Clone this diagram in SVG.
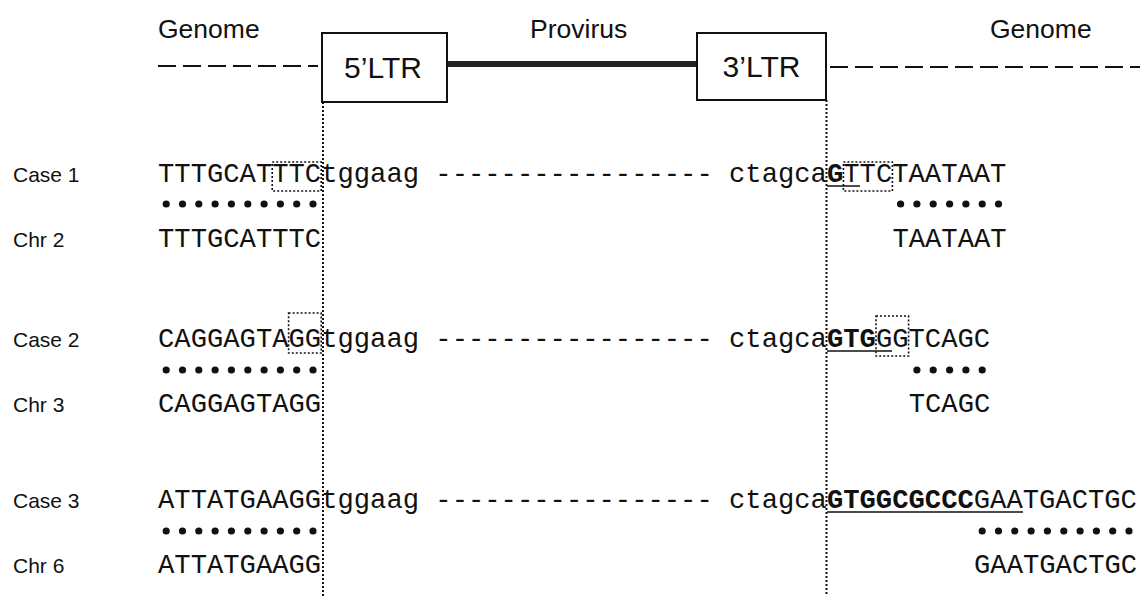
<svg xmlns="http://www.w3.org/2000/svg" width="1140" height="596" viewBox="0 0 1140 596">
<style>
.hdr{font-family:"Liberation Sans",Arial,sans-serif;font-size:26.5px;fill:#111}
.ltr{font-family:"Liberation Sans",Arial,sans-serif;font-size:30px;fill:#111;text-anchor:middle}
.lbl{font-family:"Liberation Sans",Arial,sans-serif;font-size:21px;fill:#111}
.seq{font-family:"Liberation Mono","Courier New",monospace;font-size:27.2px;fill:#111}
.b{font-weight:bold}
.box{fill:#fff;stroke:#111;stroke-width:2}
.dash{stroke:#111;stroke-width:2;stroke-dasharray:18 7;fill:none}
.vdot{stroke:#111;stroke-width:2;stroke-dasharray:2 2;fill:none}
.tsd{stroke:#111;stroke-width:1.6;stroke-dasharray:2 2;fill:none}
.ul{stroke:#111;stroke-width:1.6}
.dot{fill:#111}
</style>
<g id="header">
<text class="hdr" x="158" y="38">Genome</text>
<text class="hdr" x="530" y="38">Provirus</text>
<text class="hdr" x="990" y="38">Genome</text>
</g>
<g id="connectors">
<line class="dash" x1="158" y1="66" x2="318" y2="66"/>
<line x1="447" y1="64" x2="697" y2="64" stroke="#222" stroke-width="6"/>
<line class="dash" x1="830" y1="67" x2="1140" y2="67"/>
<line class="vdot" x1="323" y1="102" x2="323" y2="596"/>
<line class="vdot" x1="826.5" y1="100" x2="826.5" y2="596"/>
</g>
<g id="ltr5">
<rect class="box" x="322" y="33" width="125" height="69"/>
<text class="ltr" x="383" y="78">5’LTR</text>
</g>
<g id="ltr3">
<rect class="box" x="697" y="33" width="129" height="67"/>
<text class="ltr" x="761.5" y="77">3’LTR</text>
</g>
<g id="case1">
<text class="lbl" x="13" y="182">Case 1</text>
<text class="seq" x="158" y="182">TTTGCATTTCtggaag ----------------- ctagca<tspan class="b">G</tspan>TTCTAATAAT</text>
<rect class="tsd" x="272.2" y="162" width="49" height="29"/>
<rect class="tsd" x="843.4" y="162" width="49" height="29"/>
<line class="ul" x1="827" y1="186" x2="860" y2="186"/>
<g class="dot">
<circle cx="166.2" cy="204" r="3.6"/><circle cx="182.5" cy="204" r="3.6"/><circle cx="198.8" cy="204" r="3.6"/><circle cx="215.1" cy="204" r="3.6"/><circle cx="231.4" cy="204" r="3.6"/><circle cx="247.8" cy="204" r="3.6"/><circle cx="264.1" cy="204" r="3.6"/><circle cx="280.4" cy="204" r="3.6"/><circle cx="296.7" cy="204" r="3.6"/><circle cx="313.0" cy="204" r="3.6"/>
<circle cx="900.6" cy="204" r="3.6"/><circle cx="916.9" cy="204" r="3.6"/><circle cx="933.2" cy="204" r="3.6"/><circle cx="949.6" cy="204" r="3.6"/><circle cx="965.9" cy="204" r="3.6"/><circle cx="982.2" cy="204" r="3.6"/><circle cx="998.5" cy="204" r="3.6"/>
</g>
<text class="lbl" x="13" y="247">Chr 2</text>
<text class="seq" x="158" y="247">TTTGCATTTC</text>
<text class="seq" x="892.4" y="247">TAATAAT</text>
</g>
<g id="case2">
<text class="lbl" x="13" y="347">Case 2</text>
<text class="seq" x="158" y="347">CAGGAGTAGGtggaag ----------------- ctagca<tspan class="b">GTG</tspan>GGTCAGC</text>
<rect class="tsd" x="288.6" y="313" width="32.6" height="40"/>
<rect class="tsd" x="876" y="316" width="32.6" height="40"/>
<line class="ul" x1="827" y1="351" x2="892" y2="351"/>
<g class="dot">
<circle cx="166.2" cy="370" r="3.6"/><circle cx="182.5" cy="370" r="3.6"/><circle cx="198.8" cy="370" r="3.6"/><circle cx="215.1" cy="370" r="3.6"/><circle cx="231.4" cy="370" r="3.6"/><circle cx="247.8" cy="370" r="3.6"/><circle cx="264.1" cy="370" r="3.6"/><circle cx="280.4" cy="370" r="3.6"/><circle cx="296.7" cy="370" r="3.6"/><circle cx="313.0" cy="370" r="3.6"/>
<circle cx="916.9" cy="370" r="3.6"/><circle cx="933.2" cy="370" r="3.6"/><circle cx="949.6" cy="370" r="3.6"/><circle cx="965.9" cy="370" r="3.6"/><circle cx="982.2" cy="370" r="3.6"/>
</g>
<text class="lbl" x="13" y="412">Chr 3</text>
<text class="seq" x="158" y="412">CAGGAGTAGG</text>
<text class="seq" x="908.7" y="412">TCAGC</text>
</g>
<g id="case3">
<text class="lbl" x="13" y="508">Case 3</text>
<text class="seq" x="158" y="508">ATTATGAAGGtggaag ----------------- ctagca<tspan class="b">GTGGCGCCC</tspan>GAATGACTGC</text>
<line class="ul" x1="827" y1="512" x2="1023" y2="512"/>
<g class="dot">
<circle cx="166.2" cy="531" r="3.6"/><circle cx="182.5" cy="531" r="3.6"/><circle cx="198.8" cy="531" r="3.6"/><circle cx="215.1" cy="531" r="3.6"/><circle cx="231.4" cy="531" r="3.6"/><circle cx="247.8" cy="531" r="3.6"/><circle cx="264.1" cy="531" r="3.6"/><circle cx="280.4" cy="531" r="3.6"/><circle cx="296.7" cy="531" r="3.6"/><circle cx="313.0" cy="531" r="3.6"/>
<circle cx="982.2" cy="531" r="3.6"/><circle cx="998.5" cy="531" r="3.6"/><circle cx="1014.8" cy="531" r="3.6"/><circle cx="1031.1" cy="531" r="3.6"/><circle cx="1047.4" cy="531" r="3.6"/><circle cx="1063.8" cy="531" r="3.6"/><circle cx="1080.1" cy="531" r="3.6"/><circle cx="1096.4" cy="531" r="3.6"/><circle cx="1112.7" cy="531" r="3.6"/><circle cx="1129.0" cy="531" r="3.6"/>
</g>
<text class="lbl" x="13" y="573">Chr 6</text>
<text class="seq" x="158" y="573">ATTATGAAGG</text>
<text class="seq" x="974" y="573">GAATGACTGC</text>
</g>
</svg>
